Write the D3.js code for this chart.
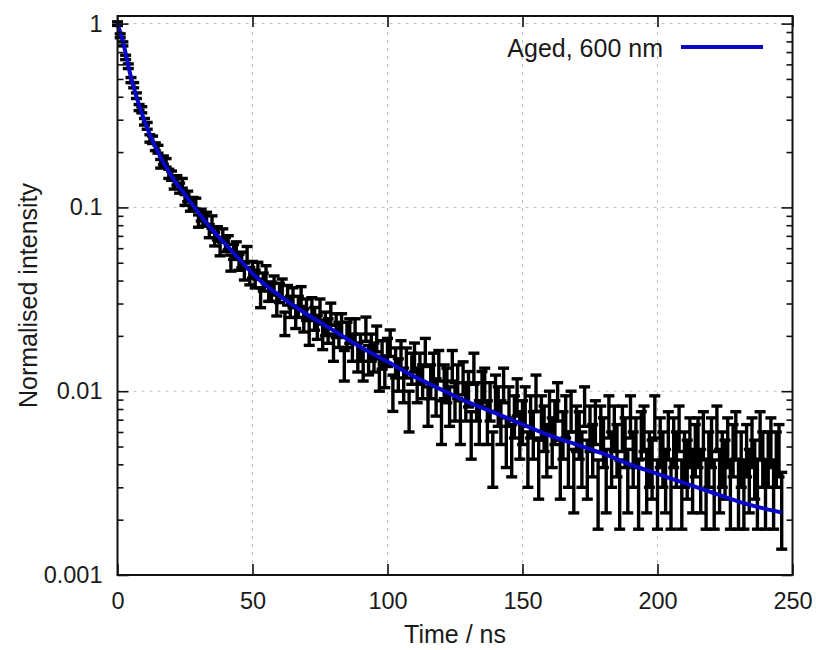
<!DOCTYPE html>
<html><head><meta charset="utf-8">
<script src="https://cdn.jsdelivr.net/npm/d3@7"></script>
<style>
body{margin:0;background:#fff}
svg{display:block}
text{font-family:"Liberation Sans",Arial,Helvetica,sans-serif;fill:#1a1a1a}
</style>
</head><body>
<svg id="c" width="816" height="650"></svg>
<script>
// ---- data ----
const timeStep = 1; // ns per channel
const counts = [
2000,1717,1552,1310,1173,986,925,811,699,680,
585,556,475,467,428,415,346,362,350,305,
298,268,281,255,271,220,230,205,212,210,
169,182,171,175,149,167,135,145,120,141,
126,129,100,115,119,101,104,90,112,85,
92,82,91,65,79,87,70,70,76,59,
69,73,47,67,58,65,51,58,66,49,
56,42,57,50,45,56,40,47,43,53,
35,46,41,46,28,41,43,35,43,31,
35,28,44,30,35,31,39,25,32,26,
33,37,20,29,25,32,22,29,16,27,
31,22,27,23,33,17,23,27,19,28,
14,23,22,17,28,18,23,14,24,18,
21,12,27,18,14,21,22,14,18,9,
20,17,14,22,11,17,10,15,19,12,
14,17,9,15,12,20,8,15,13,10,
16,11,14,18,8,12,15,9,16,7,
13,12,9,17,8,13,10,14,6,13,
11,7,15,9,13,10,6,13,11,7,
15,9,11,6,12,13,7,9,8,15,
6,11,9,7,12,6,11,9,13,6,
9,8,11,7,10,11,7,12,6,9,
11,6,13,7,9,8,11,6,10,12,
6,9,6,10,7,11,8,6,12,9,
6,9,11,6,9,10,5];
const fitTimes  = [0,2,5,10,15,20,25,30,35,40,45,50,60,70,80,90,100,110,120,130,140,150,160,170,180,190,200,210,220,230,240,246];
const fitValues = [1,0.80,0.51,0.295,0.20,0.148,0.1175,0.0933,0.0759,0.0631,0.0525,0.0437,0.0331,0.0263,0.0214,0.0174,0.0145,0.0120,0.0102,0.0087,0.0076,0.0066,0.00575,0.00513,0.00457,0.00398,0.00355,0.00316,0.00282,0.00251,0.00229,0.00219];
const xTicks = [0,50,100,150,200,250];
const yTicks = [0.001,0.01,0.1,1];
const yTickLabels = ["0.001","0.01","0.1","1"];
const legendLabel = "Aged, 600 nm";
const xLabel = "Time / ns";
const yLabel = "Normalised intensity";

// ---- layout ----
const L = 117.5, R = 792.5, T = 16, B = 575;
const FS = 23.5, FL = 25;
const svg = d3.select("#c");
const x = d3.scaleLinear().domain([0,250]).range([L,R]);
const y = d3.scaleLog().domain([0.001,1.1]).range([B,T]);

const peak = d3.max(counts);
const data = counts.map((c,i)=>({t:i*timeStep, v:c/peak, e:Math.sqrt(c)/peak}));

// grid
const grid = svg.append("g").attr("stroke","#bdbdbd").attr("stroke-width",1).attr("stroke-dasharray","3,5");
grid.selectAll("line.gx").data(xTicks.filter(d=>d>0&&d<250)).join("line")
  .attr("x1",d=>x(d)).attr("x2",d=>x(d)).attr("y1",T).attr("y2",B);
grid.selectAll("line.gy").data(yTicks.filter(d=>d>0.001)).join("line")
  .attr("x1",L).attr("x2",R).attr("y1",d=>y(d)).attr("y2",d=>y(d));

// error bars
const cap = 5.5;
const eb = svg.append("g").attr("stroke","#000").attr("stroke-width",3.4).attr("fill","none");
data.forEach(d=>{
  const lo = Math.max(d.v-d.e, 0.001), hi = d.v+d.e;
  const cx = x(d.t);
  eb.append("line").attr("x1",cx).attr("x2",cx).attr("y1",y(lo)).attr("y2",y(hi));
  eb.append("line").attr("x1",cx-cap).attr("x2",cx+cap).attr("y1",y(hi)).attr("y2",y(hi));
  if (d.v-d.e > 0.001) eb.append("line").attr("x1",cx-cap).attr("x2",cx+cap).attr("y1",y(lo)).attr("y2",y(lo));
});

// fit line
const fit = fitTimes.map((t,i)=>[t,fitValues[i]]);
svg.append("path").datum(fit)
  .attr("fill","none").attr("stroke","#0808c8").attr("stroke-width",4)
  .attr("d", d3.line().x(d=>x(d[0])).y(d=>y(d[1])).curve(d3.curveMonotoneX));

// axes
function style(g){ g.select(".domain").remove(); g.selectAll("line").attr("stroke","#111").attr("stroke-width",1.6); g.selectAll("text").attr("font-size",FS).attr("font-family",null).attr("fill","#1a1a1a"); }
svg.append("g").attr("transform",`translate(0,${B})`)
  .call(d3.axisBottom(x).tickValues(xTicks).tickSizeInner(-11).tickSizeOuter(0).tickPadding(17).tickFormat(d3.format("d"))).call(style);
svg.append("g").attr("transform",`translate(0,${T})`)
  .call(d3.axisTop(x).tickValues(xTicks).tickSizeInner(-11).tickSizeOuter(0).tickFormat("")).call(style);
svg.append("g").attr("transform",`translate(${L},0)`)
  .call(d3.axisLeft(y).tickValues(yTicks).tickSizeInner(-11).tickSizeOuter(0).tickPadding(15).tickFormat((d,i)=>yTickLabels[i])).call(style);
svg.append("g").attr("transform",`translate(${R},0)`)
  .call(d3.axisRight(y).tickValues(yTicks).tickSizeInner(-11).tickSizeOuter(0).tickFormat("")).call(style);
const minor = y.ticks().filter(d=>{const l=Math.log10(d);return Math.abs(l-Math.round(l))>1e-6;});
svg.append("g").attr("transform",`translate(${L},0)`)
  .call(d3.axisLeft(y).tickValues(minor).tickSizeInner(-6).tickSizeOuter(0).tickFormat("")).call(style);
svg.append("g").attr("transform",`translate(${R},0)`)
  .call(d3.axisRight(y).tickValues(minor).tickSizeInner(-6).tickSizeOuter(0).tickFormat("")).call(style);

// border
svg.append("rect").attr("x",L).attr("y",T).attr("width",R-L).attr("height",B-T)
  .attr("fill","none").attr("stroke","#111").attr("stroke-width",2);

// labels
svg.append("text").attr("x",(L+R)/2).attr("y",643).attr("text-anchor","middle").attr("font-size",FL).text(xLabel);
svg.append("text").attr("transform",`translate(37,${(T+B)/2}) rotate(-90)`).attr("text-anchor","middle").attr("font-size",FL).text(yLabel);

// legend
svg.append("text").attr("x",663).attr("y",57).attr("text-anchor","end").attr("font-size",FL).text(legendLabel);
svg.append("line").attr("x1",681).attr("x2",763).attr("y1",47).attr("y2",47).attr("stroke","#0808c8").attr("stroke-width",4);
</script>
</body></html>
